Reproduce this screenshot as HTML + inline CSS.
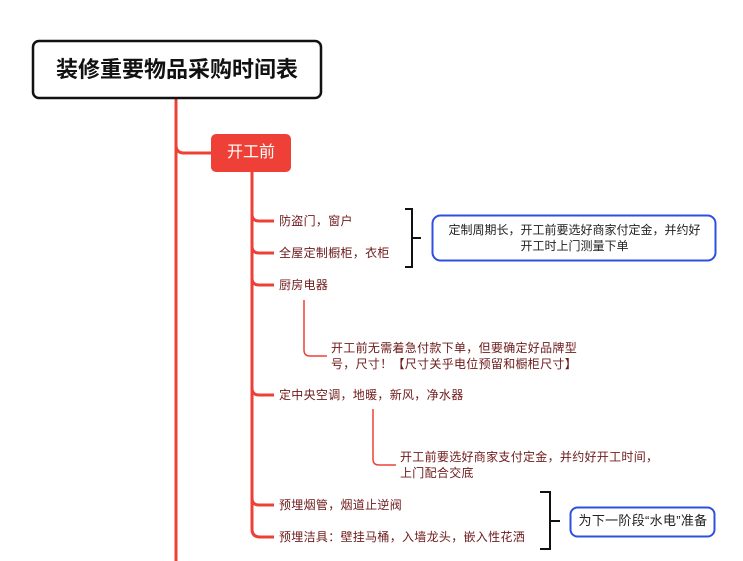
<!DOCTYPE html>
<html><head><meta charset="utf-8"><style>
body{margin:0;width:743px;height:561px;background:#fff;position:relative;overflow:hidden;font-family:"Liberation Sans","Noto Sans CJK SC",sans-serif}
.t{position:absolute;font-size:12px;color:#6e1a1a;white-space:nowrap;line-height:16px;letter-spacing:0.3px}
</style></head><body>
<svg width="743" height="561" style="position:absolute;left:0;top:0">
<g fill="none" stroke="#ee4036" stroke-width="3">
<line x1="176" y1="99" x2="176" y2="561"/>
<path d="M176 145 Q176 153 184 153 L212 153"/>
<path d="M252 172 L252 529 Q252 537 260 537 L274 537"/>
<path d="M252 214 Q252 221 259 221 L274 221"/>
<path d="M252 246 Q252 253 259 253 L274 253"/>
<path d="M252 278 Q252 285 259 285 L274 285"/>
<path d="M252 388 Q252 395 259 395 L274 395"/>
<path d="M252 498 Q252 505 259 505 L274 505"/>
</g>
<g fill="none" stroke="#ee4036" stroke-width="1.5">
<path d="M304 300 L304 350 Q304 356 310 356 L327 356"/>
<path d="M373 409 L373 459 Q373 465 379 465 L396 465"/>
</g>
<g fill="none" stroke="#111" stroke-width="2">
<path d="M405 209 L412 209 L412 267 L405 267 M412 238 L421 238"/>
<path d="M540 492 L550 492 L550 549 L540 549 M550 521 L560 521"/>
</g>
<rect x="33" y="41" width="288" height="57" rx="6" fill="#fff" stroke="#111" stroke-width="2.5"/>
<rect x="211" y="134" width="80" height="38" rx="5" fill="#ee4036"/>
<rect x="432.5" y="215.5" width="283" height="45" rx="8" fill="#fff" stroke="#2f4fe0" stroke-width="2"/>
<rect x="570.5" y="507.5" width="144" height="29" rx="7" fill="#fff" stroke="#2f4fe0" stroke-width="2"/>
</svg>
<div class="t" style="left:33px;top:55px;width:288px;text-align:center;font-size:22px;font-weight:bold;color:#111;line-height:30px;letter-spacing:0">装修重要物品采购时间表</div>
<div class="t" style="left:211px;top:144px;width:80px;text-align:center;font-size:16px;color:#fff;line-height:18px;letter-spacing:0">开工前</div>
<div class="t" style="left:279px;top:213px">防盗门，窗户</div>
<div class="t" style="left:279px;top:245px">全屋定制橱柜，衣柜</div>
<div class="t" style="left:279px;top:277px">厨房电器</div>
<div class="t" style="left:331px;top:340px">开工前无需着急付款下单，但要确定好品牌型<br>号，尺寸！【尺寸关乎电位预留和橱柜尺寸】</div>
<div class="t" style="left:279px;top:387px">定中央空调，地暖，新风，净水器</div>
<div class="t" style="left:400px;top:449px">开工前要选好商家支付定金，并约好开工时间，<br>上门配合交底</div>
<div class="t" style="left:279px;top:497px">预埋烟管，烟道止逆阀</div>
<div class="t" style="left:279px;top:529px">预埋洁具：壁挂马桶，入墙龙头，嵌入性花洒</div>
<div class="t" style="left:433px;top:222px;width:283px;text-align:center;color:#222;letter-spacing:0">定制周期长，开工前要选好商家付定金，并约好<br>开工时上门测量下单</div>
<div class="t" style="left:571px;top:513px;width:144px;text-align:center;color:#222;font-size:13px">为下一阶段“水电”准备</div>
</body></html>
